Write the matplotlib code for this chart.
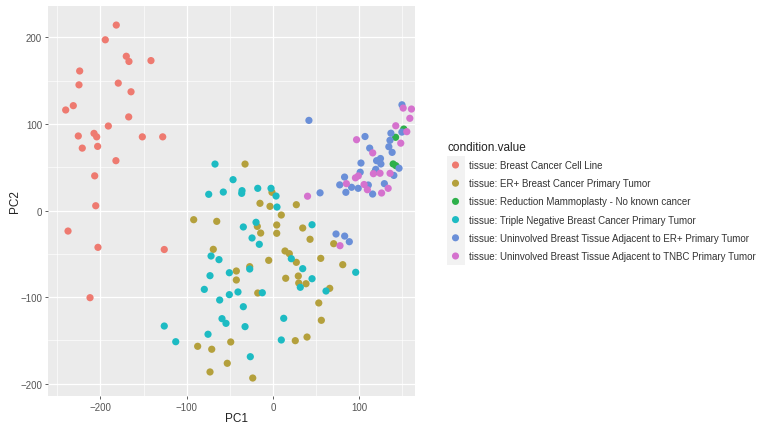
import matplotlib
matplotlib.use("Agg")
import matplotlib.pyplot as plt
from matplotlib.patches import Rectangle

plt.rcParams['font.family'] = ['Liberation Sans', 'DejaVu Sans']

# PCA scores per tissue condition
cell_line_pc1 = [-181.6, -194.3, -170.0, -166.9, -141.4, -224.0, -224.8, -179.3, -164.5,
                 -231.4, -240.2, -167.2, -190.8, -225.6, -207.4, -204.3, -151.4, -127.8,
                 -221.0, -203.2, -182.0, -206.6, -205.4, -237.5, -202.8, -126.0, -212.0]
cell_line_pc2 = [214.0, 197.0, 178.0, 172.0, 173.0, 161.0, 145.0, 147.0, 137.0,
                 121.0, 116.0, 108.0, 97.5, 86.0, 89.0, 85.0, 85.0, 85.0,
                 72.0, 74.0, 57.5, 40.0, 5.5, -23.7, -42.5, -45.0, -100.6]

er_pos_pc1 = [-32.4, -15.1, -3.5, -1.2, 27.0, 9.6, -91.9, -65.2, -18.2, 4.3, -14.3, 4.3,
              34.4, 42.9, -69.2, 13.9, 18.9, 27.0, -5.0, 55.3, 80.8, 70.3, -42.5, -27.0,
              -42.5, 14.7, 29.3, 29.8, 38.2, 65.7, -17.7, 53.0, 56.0, -49.0, -87.3, -71.0,
              -53.0, -73.0, -23.5, 25.8, 39.4]
er_pos_pc2 = [53.6, 8.3, 4.8, 21.0, 6.7, -5.2, -10.6, -12.5, -18.3, -16.7, -26.0, -26.3,
              -20.2, -33.2, -44.8, -46.7, -49.8, -59.8, -57.5, -55.2, -62.5, -38.3, -69.8, -64.8,
              -80.2, -78.2, -75.6, -83.7, -84.5, -89.8, -95.2, -106.7, -126.7, -151.7, -156.7, -160.1,
              -176.3, -186.3, -193.3, -150.2, -146.0]

reduction_pc1 = [151.5, 142.0, 139.2, 142.4, 118.0]
reduction_pc2 = [94.0, 84.5, 53.7, 51.7, 44.5]

tnbc_pc1 = [-67.2, -46.3, -74.5, -57.6, -35.9, -36.3, -17.7, -2.3, 3.5, 4.6, -19.7, -34.4,
            -24.3, -15.9, 45.2, -71.8, -62.6, -27.0, 21.2, 34.4, -73.0, -50.6, 45.2, 31.6,
            -79.6, -40.6, -50.6, -12.4, -61.8, 61.4, 95.8, -34.4, -59.1, -54.5, -32.4, 12.4,
            -75.3, 9.6, -26.3, -126.0, -112.7]
tnbc_pc2 = [53.6, 35.6, 18.7, 21.3, 22.9, 19.8, 25.6, 25.6, 16.7, 4.0, -13.6, -19.0,
            -31.7, -39.0, -16.4, -52.5, -56.7, -67.5, -55.6, -67.1, -75.2, -71.8, -78.7, -88.6,
            -91.0, -94.0, -97.1, -94.9, -103.3, -92.9, -71.3, -111.0, -124.8, -130.2, -134.0, -124.4,
            -142.8, -149.4, -168.7, -133.3, -151.4]

adj_er_pc1 = [149.4, 106.6, 136.6, 135.5, 134.2, 138.0, 149.3, 112.0, 120.0, 124.5,
              125.0, 101.9, 146.0, 101.0, 82.9, 119.0, 140.0, 77.3, 129.0, 84.4,
              91.0, 98.7, 110.4, 115.4, 54.5, 41.6, 73.0, 83.0, 88.4]
adj_er_pc2 = [122.0, 85.4, 89.2, 81.0, 73.6, 67.1, 90.5, 72.0, 57.5, 60.0,
              53.7, 54.8, 48.8, 44.2, 38.6, 47.5, 40.5, 29.6, 31.0, 21.0,
              26.8, 25.6, 29.4, 19.0, 20.4, 104.0, -27.1, -29.5, -36.0]

adj_tnbc_pc1 = [150.8, 160.4, 158.5, 142.2, 155.0, 148.0, 96.8, 115.5, 116.3, 124.0,
                135.6, 98.8, 95.5, 85.0, 105.5, 109.3, 125.8, 133.4, 40.0, 77.6]
adj_tnbc_pc2 = [118.2, 117.1, 106.4, 97.8, 91.0, 77.7, 81.7, 66.5, 42.5, 43.0,
                42.9, 39.9, 37.7, 31.0, 30.0, 24.0, 20.2, 25.6, 16.5, -40.6]

labels = [
    "tissue: Breast Cancer Cell Line",
    "tissue: ER+ Breast Cancer Primary Tumor",
    "tissue: Reduction Mammoplasty - No known cancer",
    "tissue: Triple Negative Breast Cancer Primary Tumor",
    "tissue: Uninvolved Breast Tissue Adjacent to ER+ Primary Tumor",
    "tissue: Uninvolved Breast Tissue Adjacent to TNBC Primary Tumor",
]
colors = ["#EE7A70", "#B4A03C", "#2DB04A", "#1DBBC3", "#6A8FD8", "#D572CE"]

series = [
    (cell_line_pc1, cell_line_pc2),
    (er_pos_pc1, er_pos_pc2),
    (reduction_pc1, reduction_pc2),
    (tnbc_pc1, tnbc_pc2),
    (adj_er_pc1, adj_er_pc2),
    (adj_tnbc_pc1, adj_tnbc_pc2),
]

W, H = 761, 427
fig = plt.figure(figsize=(W / 100, H / 100), dpi=100)
fig.patch.set_facecolor("white")

# panel placed in pixel units
left, right, top, bottom = 48, 415, 7, 396.7
ax = fig.add_axes([left / W, (H - bottom) / H, (right - left) / W, (bottom - top) / H])
ax.set_facecolor("#EBEBEB")
for s in ax.spines.values():
    s.set_visible(False)

ax.set_xlim(-260.7, 164.5)
ax.set_ylim(-213.7, 236.0)

ax.set_xticks([-200, -100, 0, 100])
ax.set_yticks([-200, -100, 0, 100, 200])
ax.set_xticks([-250, -150, -50, 50, 150], minor=True)
ax.set_yticks([-150, -50, 50, 150], minor=True)
ax.grid(which="major", color="white", linewidth=0.9)
ax.grid(which="minor", color="white", linewidth=0.45)
ax.set_axisbelow(True)
ax.tick_params(which="major", length=2.2, width=0.6, color="#444444",
               labelsize=7, labelcolor="#555555", pad=2)
ax.tick_params(which="minor", length=0)

for (xs, ys), c in zip(series, colors):
    ax.scatter(xs, ys, s=27, color=c, edgecolors="none", zorder=3)

ax.set_xlabel("PC1", fontsize=8.5, color="#222222", va="center")
ax.set_ylabel("PC2", fontsize=8.5, color="#222222", va="center")
pw, ph = right - left, bottom - top
ax.xaxis.set_label_coords((236 - left) / pw, (bottom - 419) / ph)
ax.yaxis.set_label_coords((15 - left) / pw, 0.5)

# legend drawn in pixel coordinates
lg = fig.add_axes([0, 0, 1, 1])
lg.set_xlim(0, W)
lg.set_ylim(H, 0)
lg.axis("off")
lg.text(447, 148, "condition.value", fontsize=8.5, va="center", ha="left", color="#222222")
row0, step = 166.0, 18.2
for i, (lab, c) in enumerate(zip(labels, colors)):
    yc = row0 + i * step
    lg.add_patch(Rectangle((446.5, yc - step / 2), 18, step, facecolor="#F2F2F2",
                           edgecolor="none"))
    lg.scatter([455.5], [yc], s=26, color=c, edgecolors="none", zorder=3)
    lg.text(469, yc, lab, fontsize=7, va="center", ha="left", color="#333333")

fig.savefig("out.png", dpi=100)
